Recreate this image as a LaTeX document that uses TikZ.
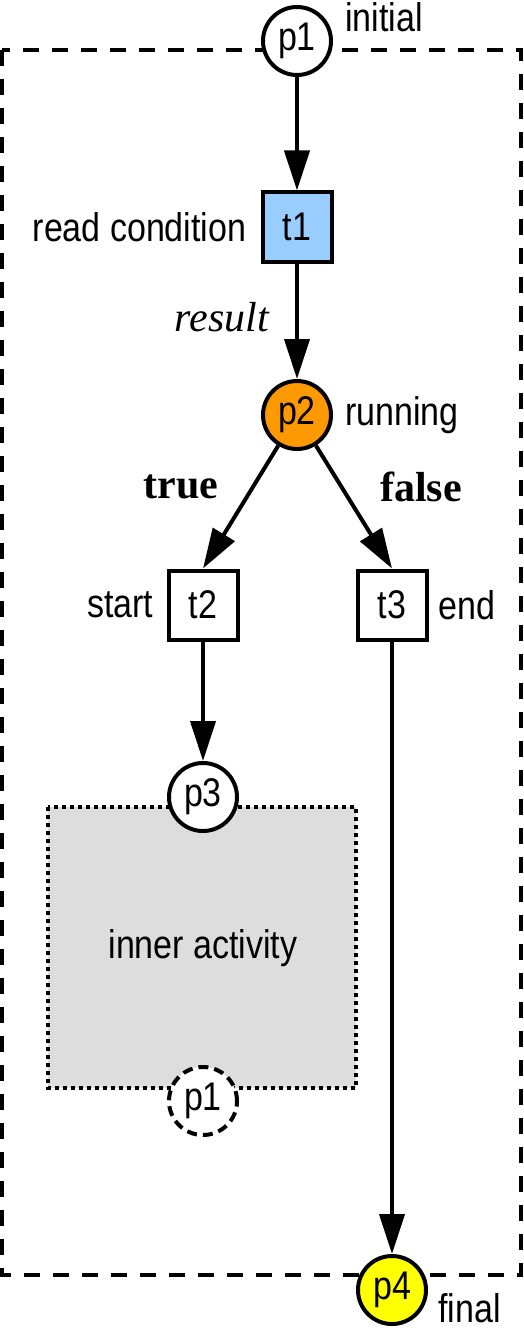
\documentclass[tikz,border=0pt]{standalone}
\usepackage{fontspec}
\setmainfont{Liberation Sans}[FakeStretch=0.85]
\newfontfamily\serifface{Liberation Serif}
\usetikzlibrary{arrows.meta,positioning}
\definecolor{Orange}{HTML}{FF9900}
\definecolor{LBlue}{HTML}{99CCFF}
\definecolor{Yellow}{HTML}{FFFF00}
\definecolor{LGray}{HTML}{DDDDDD}

\begin{document}
\begin{tikzpicture}[x=1pt, y=-1pt,
    place/.style={circle, draw, line width=4pt, fill=white, minimum size=68pt, inner sep=0pt, font=\fontsize{40}{42}\selectfont},
    transition/.style={rectangle, draw, line width=4pt, fill=white, minimum size=69pt, inner sep=0pt, font=\fontsize{40}{42}\selectfont},
    lbl/.style={inner sep=0pt, font=\fontsize{40}{42}\selectfont},
    cond/.style={inner sep=0pt, font=\serifface\fontsize{42}{44}\selectfont},
    flow/.style={line width=4pt, -{Triangle[length=40pt, width=25pt]}}]

    \useasboundingbox (0,0) rectangle (524,1332);

    \draw[line width=4pt, dash pattern=on 16pt off 13pt] (2,50) rectangle (521,1275);
    \draw[line width=4pt, dash pattern=on 4pt off 4pt, fill=LGray] (48,807) rectangle (356,1088);

    \node[place] (p1) at (297,41) {p1};
    \node[transition, fill=LBlue] (t1) at (297,227) {t1};
    \node[place, fill=Orange] (p2) at (297,415) {p2};
    \node[transition] (t2) at (203,605) {t2};
    \node[transition] (t3) at (392,605) {t3};
    \node[place] (p3) at (203,797) {p3};
    \node[place, dash pattern=on 10pt off 6pt] (p1in) at (203,1101) {p1};
    \node[place, fill=Yellow] (p4) at (392,1290) {p4};

    \node[lbl, anchor=base west] (initial) at (345,32) {initial};
    \node[lbl, left=14pt of t1] (readcond) {read condition};
    \node[cond, font=\serifface\itshape\fontsize{42}{44}\selectfont] (result) at (222,317) {result};
    \node[lbl, right=12pt of p2] (running) {running};
    \node[cond, font=\serifface\bfseries\fontsize{42}{44}\selectfont] (true) at (181,487) {true};
    \node[cond, font=\serifface\bfseries\fontsize{42}{44}\selectfont] (false) at (421,487) {false};
    \node[lbl, left=13pt of t2] (start) {start};
    \node[lbl, right=10pt of t3] (end) {end};
    \node[lbl] (inner) at (203,948) {inner activity};
    \node[lbl, anchor=base west] (final) at (438,1322) {final};

    \draw[flow] (p1) -- (t1);
    \draw[flow] (t1) -- (p2);
    \draw[flow] (p2) -- (t2.north);
    \draw[flow] (p2) -- (t3.north);
    \draw[flow] (t2) -- (p3);
    \draw[flow] (t3) -- (p4);
\end{tikzpicture}
\end{document}
